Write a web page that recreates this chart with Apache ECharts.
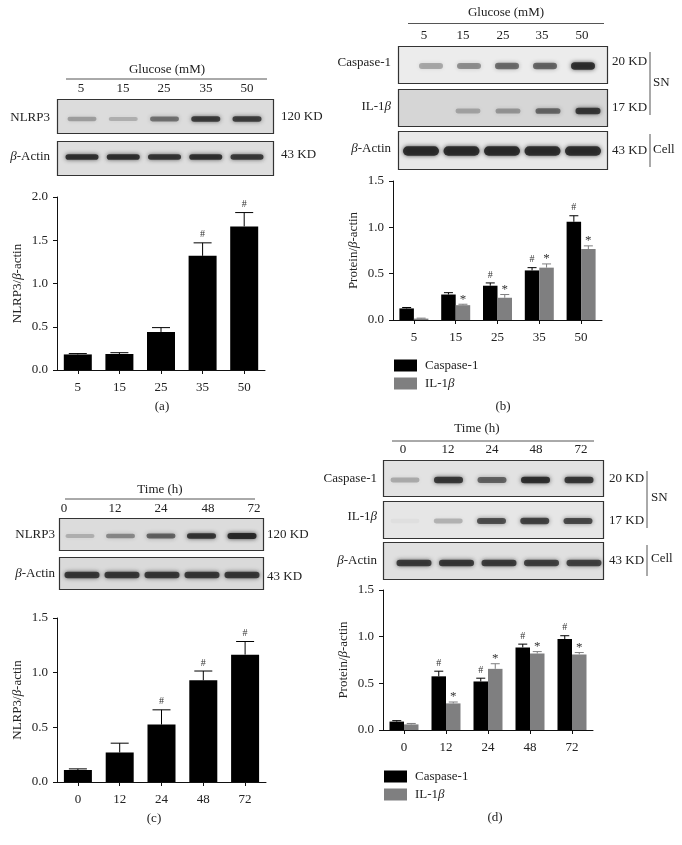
<!DOCTYPE html>
<html><head><meta charset="utf-8"><style>html,body{margin:0;padding:0;background:#fff}#c{width:682px;height:845px}</style>
<script src="https://cdn.jsdelivr.net/npm/echarts@6/dist/echarts.min.js"></script></head>
<body><div id="c"></div><script>
// ---------- data ----------
const glucoseDoses = ['5','15','25','35','50'];
const timePoints = ['0','12','24','48','72'];
const seriesCaspase = 'Caspase-1';
const seriesIL = 'IL-1β';

const nlrp3Glucose = [0.18,0.185,0.44,1.32,1.66];
const nlrp3GlucoseTop = [0.19,0.20,0.49,1.47,1.82];
const nlrp3GlucoseMarks = ['','','','#','#'];

const caspaseGlucose = [0.125,0.275,0.37,0.535,1.06];
const caspaseGlucoseTop = [0.135,0.295,0.40,0.565,1.125];
const caspaseGlucoseMarks = ['','','#','#','#'];
const ilGlucose = [0.015,0.16,0.24,0.565,0.765];
const ilGlucoseTop = [0.02,0.17,0.275,0.605,0.80];
const ilGlucoseMarks = ['','*','*','*','*'];

const nlrp3Time = [0.11,0.27,0.525,0.93,1.165];
const nlrp3TimeTop = [0.12,0.355,0.66,1.015,1.285];
const nlrp3TimeMarks = ['','','#','#','#'];

const caspaseTime = [0.09,0.575,0.52,0.885,0.975];
const caspaseTimeTop = [0.10,0.63,0.555,0.92,1.01];
const caspaseTimeMarks = ['','#','#','#','#'];
const ilTime = [0.06,0.285,0.655,0.82,0.81];
const ilTimeTop = [0.07,0.30,0.71,0.84,0.83];
const ilTimeMarks = ['','*','*','*','*'];

// band darkness read from the blots
const blotNlrp3G = [0.3,0.22,0.5,0.78,0.76];
const blotActinG = [0.85,0.85,0.83,0.85,0.8];
const blotCaspG = [0.3,0.4,0.55,0.58,0.85];
const blotIlG = [0,0.26,0.33,0.55,0.8];
const blotActinG2 = [0.88,0.88,0.88,0.86,0.86];
const blotNlrp3T = [0.22,0.4,0.58,0.82,0.9];
const blotActinT = [0.8,0.8,0.8,0.8,0.8];
const blotCaspT = [0.26,0.8,0.58,0.85,0.8];
const blotIlT = [0.03,0.24,0.68,0.74,0.7];
const blotActinT2 = [0.78,0.8,0.78,0.75,0.74];

// ---------- build ----------
const FF = '"Liberation Serif", serif';
const GRAY = '#7f7f80';
const chart = echarts.init(document.getElementById('c'), null, {renderer:'canvas'});
const grid=[], xAxis=[], yAxis=[], series=[], graphic=[], legend=[];
const richI = {i:{fontStyle:'italic',fontFamily:FF,fontSize:13,fill:'#222',color:'#222'}};

function txt(x,y,text,align,size){
  graphic.push({type:'text',x,y,silent:true,style:{text,align:align||'center',verticalAlign:'middle',
    fontFamily:FF,fontSize:size||13,fill:'#222',rich:{i:{fontStyle:'italic',fontFamily:FF,fontSize:size||13,fill:'#222'}}}});
}
function ln(x1,y1,x2,y2,c){
  graphic.push({type:'line',silent:true,shape:{x1,y1,x2,y2},style:{stroke:c||'#555',lineWidth:1}});
}
function header(cx,y,title,x1,x2,lineY,labels,xs,labelY){
  txt(cx,y,title); ln(x1,lineY,x2,lineY);
  labels.forEach((t,i)=>txt(xs[i],labelY,t));
}
function blot(x1,x2,y1,y2,bg,dark,first,last,cy,w,h,cats){
  graphic.push({type:'rect',silent:true,shape:{x:x1+.5,y:y1+.5,width:x2-x1,height:y2-y1},
    style:{fill:bg,stroke:'#333',lineWidth:1.2}});
  const idx=grid.length, sp=(last-first)/4;
  grid.push({left:first-sp/2,width:sp*5,top:cy-10,height:20,show:false});
  xAxis.push({type:'category',gridIndex:idx,data:cats,show:false});
  yAxis.push({type:'value',gridIndex:idx,min:0,max:1,show:false});
  series.push({type:'custom',xAxisIndex:idx,yAxisIndex:idx,silent:true,clip:false,z:3,
    data:dark.map((d,i)=>[i,0.5,d]),
    renderItem(p,api){
      const d=api.value(2); if(d<=0) return null;
      const c=api.coord([api.value(0),api.value(1)]);
      const bh=h*(0.6+0.4*d), col=`rgba(32,32,32,${d})`;
      return {type:'rect',shape:{x:c[0]-w/2+1,y:c[1]-bh/2,width:w-2,height:bh,r:bh/2},
        style:{fill:col,shadowBlur:4,shadowColor:col}};
    }});
}
function chartPanel(o){
  const idx=grid.length;
  grid.push({left:o.left,width:o.width,top:o.top,height:o.height,show:false});
  xAxis.push({type:'category',gridIndex:idx,data:o.cats,
    axisLine:{show:true,onZero:false,lineStyle:{color:'#111',width:1}},
    axisTick:{show:true,length:4,alignWithLabel:true,lineStyle:{color:'#111'}},
    axisLabel:{fontFamily:FF,fontSize:13,color:'#222',margin:11}});
  yAxis.push({type:'value',gridIndex:idx,min:0,max:o.max,interval:0.5,
    name:o.name,nameLocation:'middle',nameGap:33,nameRotate:90,
    nameTextStyle:{fontFamily:FF,fontSize:13,color:'#222',rich:{a:{fontFamily:FF,fontSize:13,color:'#222'},i:{fontFamily:FF,fontSize:13,fontStyle:'italic',color:'#222'}}},
    axisLine:{show:true,lineStyle:{color:'#111',width:1}},
    axisTick:{show:true,length:4,lineStyle:{color:'#111'}},
    axisLabel:{fontFamily:FF,fontSize:13,color:'#222',margin:9,formatter:v=>v.toFixed(1)},
    splitLine:{show:false}});
  o.groups.forEach(g=>{
    series.push({type:'bar',name:g.name,xAxisIndex:idx,yAxisIndex:idx,data:g.values,barWidth:o.barW,barGap:'0%',
      itemStyle:{color:g.color},silent:true,z:2});
    series.push({type:'custom',name:g.name+' error',xAxisIndex:idx,yAxisIndex:idx,silent:true,z:3,clip:false,
      data:g.values.map((v,i)=>[i,v,g.top[i]]),
      renderItem(p,api){
        const i=api.value(0), a=api.coord([i,api.value(1)]), b=api.coord([i,api.value(2)]);
        const x=a[0]+g.off, cap=o.cap/2, m=g.marks[i], st={stroke:g.color,lineWidth:1};
        const kids=[{type:'line',shape:{x1:x,y1:a[1],x2:x,y2:b[1]},style:st},
          {type:'line',shape:{x1:x-cap,y1:b[1],x2:x+cap,y2:b[1]},style:st}];
        if(m) kids.push({type:'text',style:{text:m,x:x,y:b[1]-(m==='#'?8:5),align:'center',verticalAlign:'middle',
          fontFamily:FF,fontSize:m==='#'?10:13,fill:'#333'}});
        return {type:'group',children:kids};
      }});
  });
}
function leg(left,top){
  legend.push({left,top,orient:'vertical',padding:0,itemWidth:23,itemHeight:12,itemGap:5,selectedMode:false,
    icon:'rect',data:[seriesCaspase,seriesIL],
    formatter:n=>n===seriesIL?'IL-1{i|β}':n,
    textStyle:{fontFamily:FF,fontSize:13,color:'#222',padding:[0,0,0,3],rich:richI}});
}

// panel (a)
header(167,70,'Glucose (mM)',66,267,79,glucoseDoses,[81,123,164,206,247],89);
blot(57,273,99,133,'#dcdcdc',blotNlrp3G,82,247,119,31,6,glucoseDoses);
blot(57,273,141,175,'#dedede',blotActinG,82,247,157,35,6,glucoseDoses);
txt(50,118,'NLRP3','right'); txt(50,157,'{i|β}-Actin','right');
txt(281,117,'120 KD','left'); txt(281,155,'43 KD','left');
chartPanel({left:57,width:208,top:197,height:173,max:2,cats:glucoseDoses,barW:28,cap:18,name:'{a|NLRP3/}{i|β}{a|-actin}',
  groups:[{name:'NLRP3',values:nlrp3Glucose,top:nlrp3GlucoseTop,marks:nlrp3GlucoseMarks,color:'#000',off:0}]});
txt(162,407,'(a)');

// panel (b)
header(506,13,'Glucose (mM)',408,604,23.5,glucoseDoses,[424,463,503,542,582],36);
blot(398,607,46,83,'#ececec',blotCaspG,431,583,66,26,8,glucoseDoses);
blot(398,607,89,126,'#d6d6d6',blotIlG,428,588,111,27,7,glucoseDoses);
blot(398,607,131,169,'#e8e8e8',blotActinG2,421,583,151,38,10,glucoseDoses);
txt(391,63,seriesCaspase,'right'); txt(391,107,'IL-1{i|β}','right'); txt(391,149,'{i|β}-Actin','right');
txt(612,62,'20 KD','left'); txt(612,108,'17 KD','left'); txt(612,151,'43 KD','left');
ln(650,52,650,115); ln(650,134,650,167);
txt(653,83,'SN','left'); txt(653,150,'Cell','left');
chartPanel({left:393,width:209,top:181,height:139,max:1.5,cats:glucoseDoses,barW:14.5,cap:9,name:'{a|Protein/}{i|β}{a|-actin}',
  groups:[{name:seriesCaspase,values:caspaseGlucose,top:caspaseGlucoseTop,marks:caspaseGlucoseMarks,color:'#000',off:-7.25},
          {name:seriesIL,values:ilGlucose,top:ilGlucoseTop,marks:ilGlucoseMarks,color:GRAY,off:7.25}]});
leg(394,359);
txt(503,407,'(b)');

// panel (c)
header(160,490,'Time (h)',65,255,499,timePoints,[64,115,161,208,254],509);
blot(59,263,518,550,'#dcdcdc',blotNlrp3T,80,242,536,31,6,timePoints);
blot(59,263,557,589,'#dadada',blotActinT,82,242,575,37,7,timePoints);
txt(55,535,'NLRP3','right'); txt(55,574,'{i|β}-Actin','right');
txt(267,535,'120 KD','left'); txt(267,577,'43 KD','left');
chartPanel({left:57,width:209,top:618,height:164,max:1.5,cats:timePoints,barW:28,cap:18,name:'{a|NLRP3/}{i|β}{a|-actin}',
  groups:[{name:'NLRP3',values:nlrp3Time,top:nlrp3TimeTop,marks:nlrp3TimeMarks,color:'#000',off:0}]});
txt(154,819,'(c)');

// panel (d)
header(477,429,'Time (h)',392,594,441,timePoints,[403,448,492,536,581],450);
blot(383,603,460,496,'#e2e2e2',blotCaspT,405,579,480,31,7,timePoints);
blot(383,603,501,538,'#e6e6e6',blotIlT,405,578,521,31,7,timePoints);
blot(383,603,542,579,'#e0e0e0',blotActinT2,414,584,563,37,7,timePoints);
txt(377,479,seriesCaspase,'right'); txt(377,517,'IL-1{i|β}','right'); txt(377,561,'{i|β}-Actin','right');
txt(609,479,'20 KD','left'); txt(609,521,'17 KD','left'); txt(609,561,'43 KD','left');
ln(647,471,647,528); ln(647,545,647,576);
txt(651,498,'SN','left'); txt(651,559,'Cell','left');
chartPanel({left:383,width:210,top:590,height:140,max:1.5,cats:timePoints,barW:14.5,cap:9,name:'{a|Protein/}{i|β}{a|-actin}',
  groups:[{name:seriesCaspase,values:caspaseTime,top:caspaseTimeTop,marks:caspaseTimeMarks,color:'#000',off:-7.25},
          {name:seriesIL,values:ilTime,top:ilTimeTop,marks:ilTimeMarks,color:GRAY,off:7.25}]});
leg(384,770);
txt(495,818,'(d)');

chart.setOption({animation:false,backgroundColor:'#fff',grid,xAxis,yAxis,series,graphic:{elements:graphic},legend});
</script></body></html>
